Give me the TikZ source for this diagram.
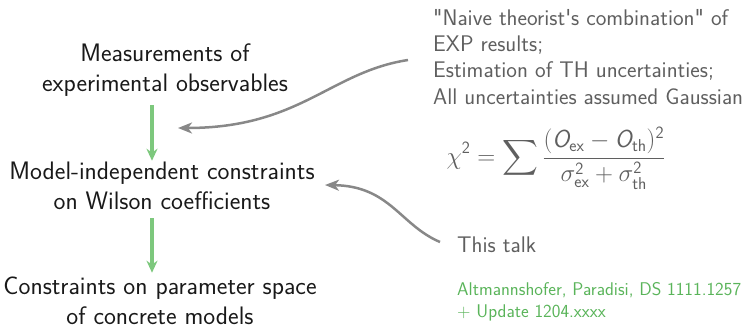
\documentclass[tikz,border=0pt]{standalone}
\usepackage{amsmath}
\usetikzlibrary{arrows.meta,calc}
\renewcommand{\familydefault}{\sfdefault}
\definecolor{maintext}{RGB}{25,25,25}
\definecolor{sidetext}{RGB}{95,95,95}
\definecolor{grn}{RGB}{90,180,90}
\definecolor{grnarrow}{RGB}{125,200,125}
\definecolor{grayarrow}{RGB}{136,136,136}
\newcommand{\sfO}{\text{\sffamily\itshape O}}
\newcommand{\sfs}[1]{\text{\sffamily\upshape #1}}
\begin{document}
\begin{tikzpicture}[x=1pt,y=-1pt,
  mainbox/.style={align=center,inner sep=0pt,text=maintext,font=\fontsize{25.3}{29.5}\selectfont,anchor=base},
  sidebox/.style={align=left,inner sep=0pt,text=sidetext,font=\fontsize{22.6}{26.3}\selectfont,anchor=base west},
  refbox/.style={align=left,inner sep=0pt,text=grn,font=\fontsize{18.4}{21.5}\selectfont,anchor=base west},
  flow/.style={draw=grnarrow,line width=4pt,-{Stealth[length=12pt,width=11pt]}},
  note/.style={draw=grayarrow,line width=2.5pt,-{Stealth[length=14pt,width=11pt,inset=4pt]}}]
\useasboundingbox (0,0) rectangle (745,327);
\node[mainbox] (meas) at (165,91) {Measurements of\\experimental observables};
\node[mainbox] (wil) at (162,209) {Model-independent constraints\\on Wilson coefficients};
\node[mainbox] (cons) at (160,324) {Constraints on parameter space\\of concrete models};
\node[sidebox] (naive) at (433,104) {\textquotedbl Naive theorist\textquotesingle s combination\textquotedbl{} of\\EXP results;\\Estimation of TH uncertainties;\\All uncertainties assumed Gaussian};
\node[inner sep=0pt,text=sidetext,font=\fontsize{24.6}{30}\selectfont] (chi) at (556,158)
  {$\displaystyle \chi^{\sfs{2}} = \sum \frac{(\sfO_{\sfs{ex}} - \sfO_{\sfs{th}})^{\sfs{2}}}{\sigma^{\sfs{2}}_{\sfs{ex}} + \sigma^{\sfs{2}}_{\sfs{th}}}$};
\node[sidebox] (talk) at (457,252) {This talk};
\node[refbox] (ref) at (457,317) {Altmannshofer, Paradisi, DS 1111.1257\\+ Update 1204.xxxx};
\draw[flow] ($(meas.south)+(-13,9)$) coordinate (a1) -- ($(a1 |- wil.north)+(0,-1)$);
\draw[flow] ($(wil.south)+(-10,9)$) coordinate (a2) -- ($(a2 |- cons.north)+(0,-4)$);
\coordinate (n1s) at (408,60);
\coordinate (n1e) at (178,128);
\draw[note] (n1s) .. controls (330,72) and (300,128) .. (n1e);
\coordinate (n2s) at (440,242);
\coordinate (n2e) at (325,185);
\draw[note] (n2s) .. controls (400,225) and (390,186) .. (n2e);
\end{tikzpicture}
\end{document}
